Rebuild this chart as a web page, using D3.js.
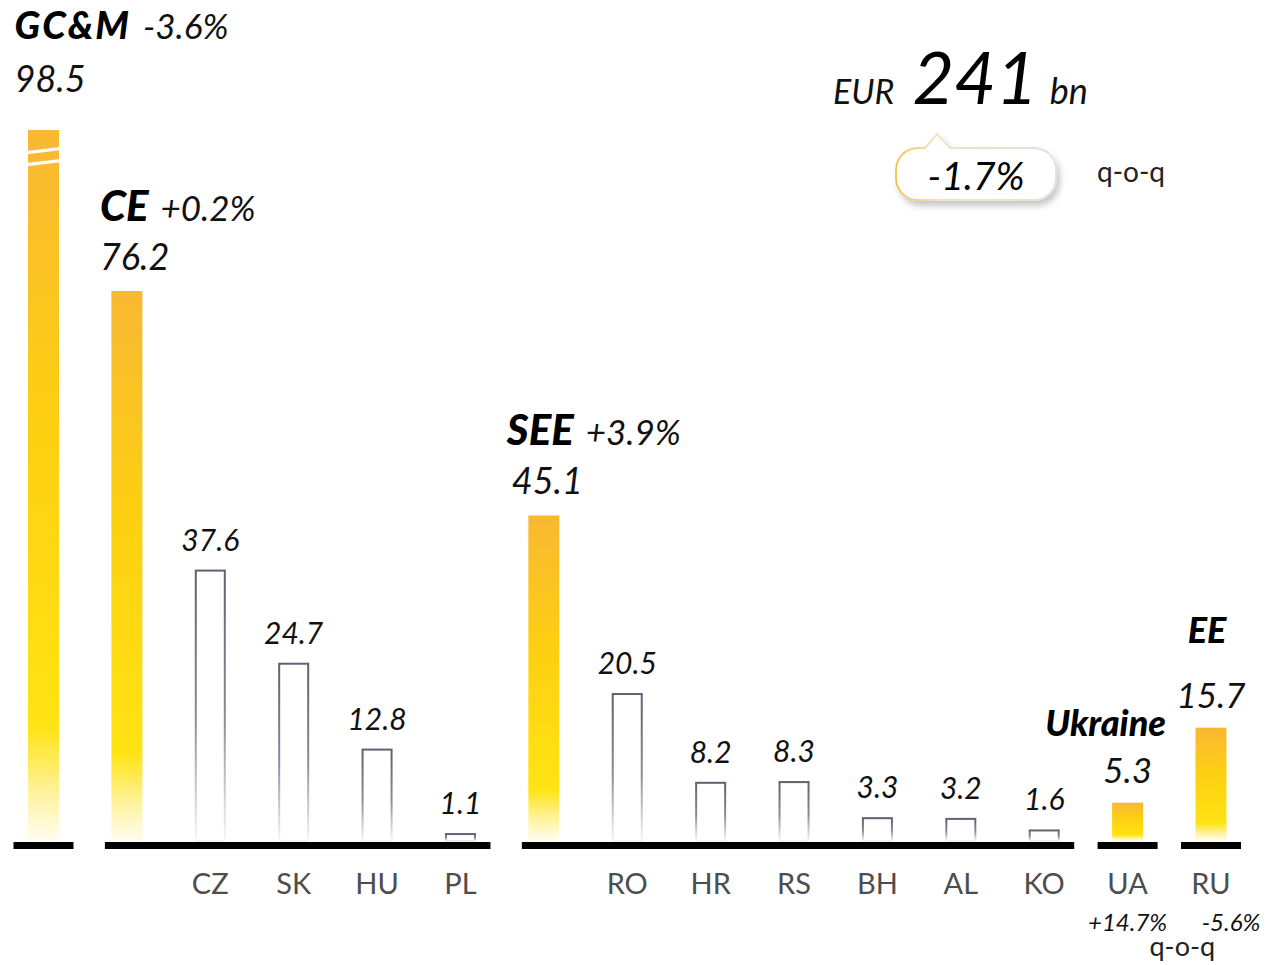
<!DOCTYPE html>
<html>
<head>
<meta charset="utf-8">
<script src="https://cdn.jsdelivr.net/npm/d3@7"></script>
<style>
  html, body { margin: 0; padding: 0; background: #fff; }
  svg { display: block; font-family: Lato, "Open Sans", sans-serif; }
</style>
</head>
<body>
<svg width="1266" height="965"></svg>
<script>
// chart data
var categories = ["GC&M", "CE", "CZ", "SK", "HU", "PL", "SEE", "RO", "HR", "RS", "BH", "AL", "KO", "UA", "RU"];
var values = [98.5, 76.2, 37.6, 24.7, 12.8, 1.1, 45.1, 20.5, 8.2, 8.3, 3.3, 3.2, 1.6, 5.3, 15.7];
var isTotal = [true, true, false, false, false, false, true, false, false, false, false, false, false, true, true];
var tickLabels = ["", "", "CZ", "SK", "HU", "PL", "", "RO", "HR", "RS", "BH", "AL", "KO", "UA", "RU"];

var groupNames = ["GC&M", "CE", "SEE", "Ukraine", "EE"];
var groupChanges = ["-3.6%", "+0.2%", "+3.9%", "+14.7%", "-5.6%"];
var groupFirst = ["GC&M", "CE", "SEE", "UA", "RU"];
var groupLast = ["GC&M", "PL", "KO", "UA", "RU"];

var totalValue = 241;
var totalChange = "-1.7%";

var svg = d3.select("svg"),
    defs = svg.append("defs");

var x = d3.scalePoint().domain(categories).range([43.5, 1211]);
var y = d3.scaleLinear().domain([0, 98.5]).range([841, 130]);
var barW = 31;

// gradients
var yellow = defs.append("linearGradient")
    .attr("id", "yellow").attr("x1", 0).attr("y1", 0).attr("x2", 0).attr("y2", 1);
[[0, "#f8b833"], [0.4, "#fdcf12"], [0.84, "#ffe312"], [0.93, "#fff29a"], [1, "#fffdf2"]]
  .forEach(function(s) { yellow.append("stop").attr("offset", s[0]).attr("stop-color", s[1]); });

var grey = defs.append("linearGradient")
    .attr("id", "grey").attr("x1", 0).attr("y1", 0).attr("x2", 0).attr("y2", 1);
[[0, "#5e6172"], [0.55, "#8a8c99"], [0.85, "#d3d4da"], [1, "#f7f7f9"]]
  .forEach(function(s) { grey.append("stop").attr("offset", s[0]).attr("stop-color", s[1]); });

var bubbleStroke = defs.append("linearGradient")
    .attr("id", "bubbleStroke").attr("x1", 0).attr("y1", 0).attr("x2", 1).attr("y2", 0);
[[0, "#f4c24a"], [0.25, "#efe3c2"], [1, "#e3e1dc"]]
  .forEach(function(s) { bubbleStroke.append("stop").attr("offset", s[0]).attr("stop-color", s[1]); });

defs.append("filter").attr("id", "shadow")
    .attr("x", "-20%").attr("y", "-30%").attr("width", "150%").attr("height", "180%")
  .append("feDropShadow")
    .attr("dx", 3).attr("dy", 5).attr("stdDeviation", 3)
    .attr("flood-color", "#000").attr("flood-opacity", 0.22);

var data = categories.map(function(c, i) {
  return { cat: c, value: values[i], total: isTotal[i], tick: tickLabels[i] };
});

// bars
svg.append("g").selectAll("rect.total")
  .data(data.filter(function(d) { return d.total; }))
  .enter().append("rect")
    .attr("x", function(d) { return x(d.cat) - barW / 2; })
    .attr("y", function(d) { return y(d.value); })
    .attr("width", barW)
    .attr("height", function(d) { return y(0) - y(d.value); })
    .attr("fill", "url(#yellow)");

svg.append("g").selectAll("rect.country")
  .data(data.filter(function(d) { return !d.total; }))
  .enter().append("rect")
    .attr("x", function(d) { return x(d.cat) - barW / 2 + 1; })
    .attr("y", function(d) { return y(d.value) + 1; })
    .attr("width", barW - 2)
    .attr("height", function(d) { return y(0) - y(d.value) - 1; })
    .attr("fill", "#fff")
    .attr("stroke", "url(#grey)")
    .attr("stroke-width", 2);

// break marks on the first bar
var gTop = y(values[0]), gL = x(categories[0]) - barW / 2 - 1, gR = gL + barW + 2;
[[17, 3.2], [29, 3.2]].forEach(function(b) {
  svg.append("polygon")
    .attr("points", [[gL, gTop + b[0] + 4], [gR, gTop + b[0]], [gR, gTop + b[0] + b[1]], [gL, gTop + b[0] + 4 + b[1]]].join(" "))
    .attr("fill", "#fff");
});

// baseline segments
svg.append("g").selectAll("rect")
  .data(groupNames.map(function(n, i) { return { first: groupFirst[i], last: groupLast[i] }; }))
  .enter().append("rect")
    .attr("x", function(d) { return x(d.first) - (d.first === d.last ? 30 : 22); })
    .attr("y", 842)
    .attr("width", function(d) { return x(d.last) + 30 - (x(d.first) - (d.first === d.last ? 30 : 22)); })
    .attr("height", 7)
    .attr("fill", "#000");

// tick labels
svg.append("g").selectAll("text")
  .data(data.filter(function(d) { return d.tick; }))
  .enter().append("text")
    .attr("x", function(d) { return x(d.cat); })
    .attr("y", 894)
    .attr("text-anchor", "middle")
    .attr("font-size", 29)
    .attr("fill", "#4d4d4d")
    .text(function(d) { return d.tick; });

// country value labels
svg.append("g").selectAll("text")
  .data(data.filter(function(d) { return !d.total; }))
  .enter().append("text")
    .attr("x", function(d) { return x(d.cat); })
    .attr("y", function(d) { return y(d.value) - 19; })
    .attr("text-anchor", "middle")
    .attr("font-size", 30)
    .attr("font-style", "italic")
    .attr("fill", "#111")
    .text(function(d) { return d3.format(".1f")(d.value); });

// group headings: name + change on one line, value below (left aligned)
var headDx = [-29, -27, -37];
var valDx = [-29, -27, -32];
var headSize = [38, 42, 42];
[0, 1, 2].forEach(function(i) {
  var c = groupFirst[i], v = values[categories.indexOf(c)];
  var top = i === 0 ? y(v) - 17 : y(v);
  var vBase = top - 21, nBase = vBase - (i === 0 ? 53 : 49);
  svg.append("text")
    .attr("x", x(c) + valDx[i]).attr("y", vBase)
    .attr("font-size", 36).attr("font-style", "italic").attr("fill", "#111")
    .text(d3.format(".1f")(v));
  var name = svg.append("text")
    .attr("x", x(c) + headDx[i]).attr("y", nBase)
    .attr("font-size", headSize[i]).attr("font-style", "italic").attr("font-weight", 900).attr("fill", "#000")
    .attr("letter-spacing", i === 0 ? 2 : 0)
    .text(groupNames[i]);
  var w = name.node().getComputedTextLength();
  svg.append("text")
    .attr("x", x(c) + headDx[i] + w + 12).attr("y", nBase)
    .attr("font-size", 35).attr("font-style", "italic").attr("fill", "#111")
    .text(groupChanges[i]);
});

// Ukraine and EE headings (centered), changes under the axis
var nameDx = [-22, -4], nameDy = [-67, -85], chgDx = [0, 20];
[3, 4].forEach(function(i, k) {
  var c = groupFirst[i], v = values[categories.indexOf(c)];
  svg.append("text")
    .attr("x", x(c)).attr("y", y(v) - 20)
    .attr("text-anchor", "middle")
    .attr("font-size", 35).attr("font-style", "italic").attr("fill", "#111")
    .text(d3.format(".1f")(v));
  svg.append("text")
    .attr("x", x(c) + nameDx[k]).attr("y", y(v) + nameDy[k])
    .attr("text-anchor", "middle")
    .attr("font-size", 36).attr("font-style", "italic").attr("font-weight", 900).attr("fill", "#000")
    .text(groupNames[i]);
  svg.append("text")
    .attr("x", x(c) + chgDx[k]).attr("y", 931)
    .attr("text-anchor", "middle")
    .attr("font-size", 24).attr("font-style", "italic").attr("fill", "#111")
    .text(groupChanges[i]);
});
svg.append("text")
  .attr("x", (x("UA") + x("RU")) / 2 + 13).attr("y", 956)
  .attr("text-anchor", "middle")
  .attr("font-size", 27).attr("fill", "#222")
  .text("q-o-q");

// total at top right
var eur = svg.append("text")
    .attr("x", 833).attr("y", 104)
    .attr("font-size", 34).attr("font-style", "italic").attr("fill", "#111")
    .text("EUR");
var big = svg.append("text")
    .attr("x", 833 + eur.node().getComputedTextLength() + 18).attr("y", 104)
    .attr("font-size", 72).attr("font-style", "italic").attr("fill", "#000")
    .text(totalValue);
svg.append("text")
    .attr("x", +big.attr("x") + big.node().getComputedTextLength() + 12).attr("y", 104)
    .attr("font-size", 36).attr("font-style", "italic").attr("fill", "#111")
    .text("bn");

// speech bubble
var bx0 = 896, by0 = 148, bx1 = 1056, by1 = 200, r = 22;
var bubble = d3.path();
bubble.moveTo(bx0 + r, by0);
bubble.lineTo(925, by0);
bubble.lineTo(937, 134);
bubble.lineTo(950, by0);
bubble.lineTo(bx1 - r, by0);
bubble.arcTo(bx1, by0, bx1, by0 + r, r);
bubble.lineTo(bx1, by1 - r);
bubble.arcTo(bx1, by1, bx1 - r, by1, r);
bubble.lineTo(bx0 + r, by1);
bubble.arcTo(bx0, by1, bx0, by1 - r, r);
bubble.lineTo(bx0, by0 + r);
bubble.arcTo(bx0, by0, bx0 + r, by0, r);
bubble.closePath();
svg.append("path")
  .attr("d", bubble.toString())
  .attr("fill", "#fff")
  .attr("stroke", "url(#bubbleStroke)")
  .attr("stroke-width", 1.8)
  .attr("filter", "url(#shadow)");
svg.append("text")
  .attr("x", 976).attr("y", 190)
  .attr("text-anchor", "middle")
  .attr("font-size", 39).attr("font-style", "italic").attr("fill", "#000")
  .text(totalChange);
svg.append("text")
  .attr("x", 1097).attr("y", 182)
  .attr("font-size", 28).attr("fill", "#222")
  .text("q-o-q");
</script>
</body>
</html>
